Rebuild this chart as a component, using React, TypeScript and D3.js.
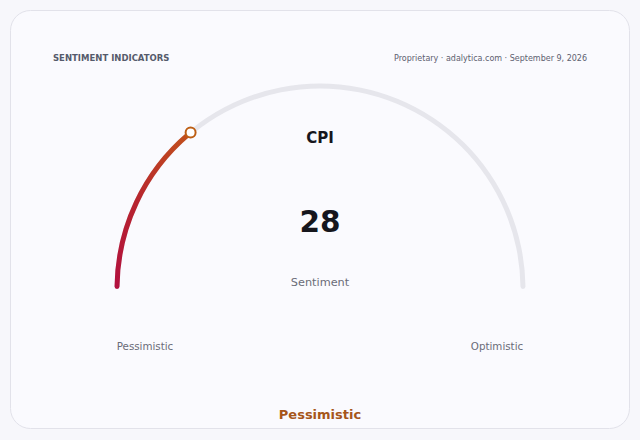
import React from 'react';
import * as d3 from 'd3';

const title = 'SENTIMENT INDICATORS';
const source = 'Proprietary · adalytica.com · September 9, 2026';
const indicator = 'CPI';
const value = 28;
const domain = [0, 100];
const endLabels = ['Pessimistic', 'Optimistic'];
const subLabel = 'Sentiment';
const verdict = 'Pessimistic';

const W = 640;
const H = 440;
const cx = 320;
const cy = 288;
const R = 203;
const thick = 5;

const App: React.FC = () => {
  const angle = d3.scaleLinear().domain(domain).range([-Math.PI / 2, Math.PI / 2]);

  const arc = d3.arc<{ start: number; end: number }>()
    .innerRadius(R - thick / 2)
    .outerRadius(R + thick / 2)
    .cornerRadius(thick / 2)
    .startAngle(d => d.start)
    .endAngle(d => d.end);

  const track = arc({ start: angle(domain[0]), end: angle(domain[1]) }) || '';
  const filled = arc({ start: angle(domain[0]), end: angle(value) }) || '';

  // positions relative to the gauge centre
  const a = angle(value);
  const mx = R * Math.sin(a);
  const my = -R * Math.cos(a);
  const sx = R * Math.sin(angle(domain[0]));
  const sy = -R * Math.cos(angle(domain[0]));

  const font = '"DejaVu Sans", Verdana, sans-serif';

  return (
    <div style={{ position: 'fixed', left: 0, top: 0, width: W, height: H, background: '#f7f7fb' }}>
      <svg width={W} height={H} viewBox={`0 0 ${W} ${H}`} style={{ fontFamily: font }}>
        <defs>
          <linearGradient id="valGrad" gradientUnits="userSpaceOnUse" x1={sx} y1={sy} x2={mx} y2={my}>
            <stop offset="0%" stopColor="#b2103f" />
            <stop offset="50%" stopColor="#b7242f" />
            <stop offset="100%" stopColor="#c2511c" />
          </linearGradient>
        </defs>
        <rect x={10.5} y={10.5} width={619} height={418} rx={20} fill="#fafafe" stroke="#e2e2ea" />

        <text x={53} y={61} fontSize={8.5} fontWeight="bold" fill="#555a6b">{title}</text>
        <text x={587} y={61} fontSize={8} fill="#5d6070" textAnchor="end">{source}</text>

        <g transform={`translate(${cx},${cy + 1})`}>
          <path d={track} fill="#e6e6ec" />
          <path d={filled} fill="url(#valGrad)" />
          <circle cx={mx} cy={my} r={5} fill="#fff" stroke="#bd5e14" strokeWidth={2} />
        </g>

        <text x={cx} y={143} fontSize={15} fontWeight="bold" fill="#16161d" textAnchor="middle">{indicator}</text>
        <text x={cx} y={232} fontSize={29.5} fontWeight="bold" fill="#16161d" textAnchor="middle">{value}</text>
        <text x={cx} y={286} fontSize={11.3} fill="#6a6c78" textAnchor="middle">{subLabel}</text>

        <text x={145} y={350} fontSize={10.3} fill="#6a6c78" textAnchor="middle">{endLabels[0]}</text>
        <text x={497} y={350} fontSize={10.3} fill="#6a6c78" textAnchor="middle">{endLabels[1]}</text>

        <text x={cx} y={419} fontSize={13} fontWeight="bold" fill="#a6561a" textAnchor="middle">{verdict}</text>
      </svg>
    </div>
  );
};

export default App;
